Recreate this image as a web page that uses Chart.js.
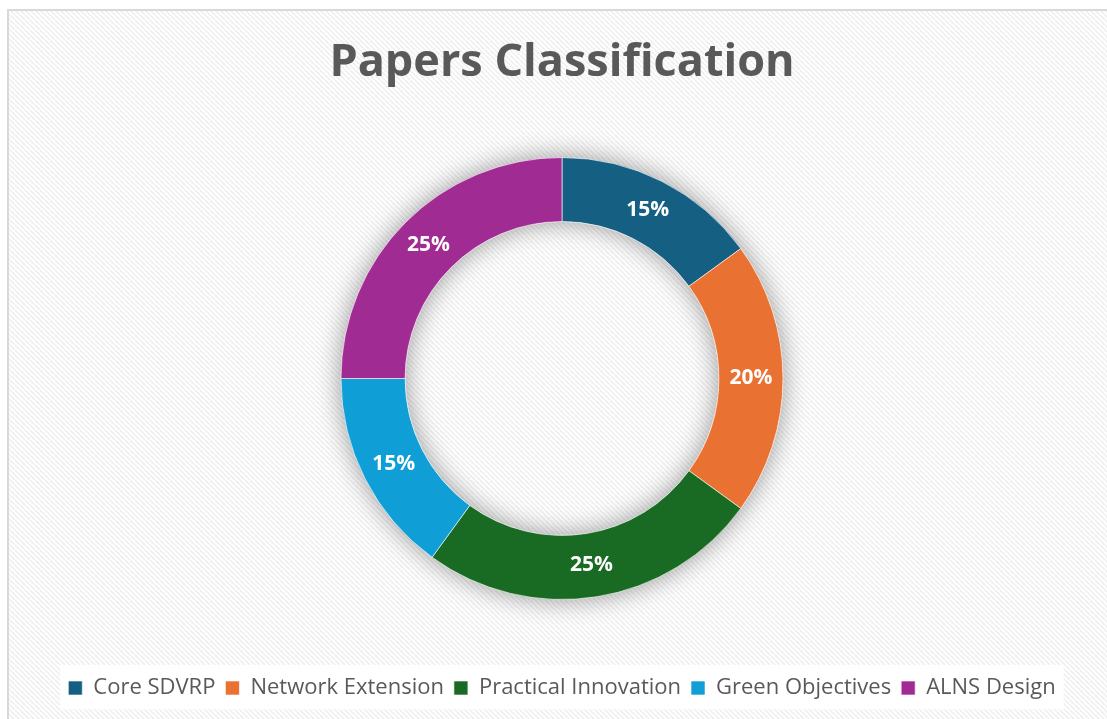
<!DOCTYPE html>
<html>
<head>
<meta charset="utf-8">
<script src="https://cdn.jsdelivr.net/npm/chart.js@4"></script>
<style>
  html, body { margin: 0; padding: 0; background: #fff; }
  #wrap { position: absolute; left: 0; top: 0; width: 1107px; height: 719px; }
</style>
</head>
<body>
<div id="wrap"><canvas id="papersChart"></canvas></div>
<script>
// 데이터
const categories = ['Core SDVRP', 'Network Extension', 'Practical Innovation', 'Green Objectives', 'ALNS Design'];
const shares = [15, 20, 25, 15, 25];
const sliceColors = ['#156082', '#E97132', '#196B24', '#0F9ED5', '#A02B93'];
const chartTitle = 'Papers Classification';

const textGray = '#595959';
const fontStack = '"Open Sans", "Liberation Sans", sans-serif';

// 대각선 줄무늬 배경 패턴
function makeHatch(ctx) {
    const tile = document.createElement('canvas');
    tile.width = 5;
    tile.height = 5;
    const t = tile.getContext('2d');
    t.fillStyle = '#ffffff';
    t.fillRect(0, 0, 5, 5);
    t.strokeStyle = '#efefef';
    t.lineWidth = 1.6;
    for (const o of [-5, 0, 5]) {
        t.beginPath();
        t.moveTo(o, 0);
        t.lineTo(o + 5, 5);
        t.stroke();
    }
    return ctx.createPattern(tile, 'repeat');
}

const backgroundPlugin = {
    id: 'bgPanel',
    beforeDraw(chart) {
        const ctx = chart.ctx;
        ctx.save();
        ctx.fillStyle = '#ffffff';
        ctx.fillRect(0, 0, chart.width, chart.height);
        ctx.fillStyle = makeHatch(ctx);
        ctx.fillRect(8, 10, chart.width, chart.height);
        ctx.strokeStyle = '#d9d9d9';
        ctx.lineWidth = 2;
        ctx.strokeRect(8, 10, chart.width + 10, chart.height + 10);

        // 범례 뒤 흰 상자
        const lg = chart.legend;
        if (lg && lg.legendHitBoxes && lg.legendHitBoxes.length) {
            const boxes = lg.legendHitBoxes;
            const l = Math.min(...boxes.map(b => b.left)) - 8;
            const r = Math.max(...boxes.map(b => b.left + b.width)) + 8;
            ctx.fillStyle = '#ffffff';
            ctx.fillRect(l, lg.top - 2, r - l, lg.height + 2);
        }
        ctx.restore();
    }
};

// 도넛 그림자
const ringShadowPlugin = {
    id: 'ringShadow',
    beforeDatasetsDraw(chart) {
        const arc = chart.getDatasetMeta(0).data[0];
        if (!arc) return;
        const ctx = chart.ctx;
        ctx.save();
        ctx.shadowColor = 'rgba(0,0,0,0.4)';
        ctx.shadowBlur = 26;
        ctx.fillStyle = '#ffffff';
        ctx.beginPath();
        ctx.arc(arc.x, arc.y, arc.outerRadius, 0, Math.PI * 2);
        ctx.arc(arc.x, arc.y, arc.innerRadius, Math.PI * 2, 0, true);
        ctx.closePath();
        ctx.fill('evenodd');
        ctx.restore();
    }
};

// 조각 안의 퍼센트 라벨
const sliceLabelPlugin = {
    id: 'sliceLabels',
    afterDatasetsDraw(chart) {
        const ctx = chart.ctx;
        const meta = chart.getDatasetMeta(0);
        ctx.save();
        ctx.fillStyle = '#ffffff';
        ctx.font = 'bold 21px ' + fontStack;
        ctx.textAlign = 'center';
        ctx.textBaseline = 'middle';
        meta.data.forEach((el, i) => {
            const p = el.tooltipPosition();
            ctx.fillText(shares[i] + '%', p.x, p.y);
        });
        ctx.restore();
    }
};

new Chart(document.getElementById('papersChart'), {
    type: 'doughnut',
    data: {
        labels: categories,
        datasets: [{
            data: shares,
            backgroundColor: sliceColors,
            borderColor: 'rgba(255,255,255,0.6)',
            borderWidth: 1,
            radius: 221,
            cutout: '71%'
        }]
    },
    options: {
        responsive: true,
        maintainAspectRatio: false,
        animation: false,
        layout: {
            padding: { left: 17, right: 0, top: 0, bottom: 10 }
        },
        plugins: {
            title: {
                display: true,
                text: chartTitle,
                color: textGray,
                font: { family: fontStack, size: 45, weight: 'bold' },
                padding: { top: 36, bottom: 0 }
            },
            legend: {
                position: 'bottom',
                labels: {
                    color: textGray,
                    font: { family: fontStack, size: 22 },
                    boxWidth: 14,
                    boxHeight: 14,
                    padding: 10
                }
            },
            tooltip: { enabled: false }
        }
    },
    plugins: [backgroundPlugin, ringShadowPlugin, sliceLabelPlugin]
});
</script>
</body>
</html>
